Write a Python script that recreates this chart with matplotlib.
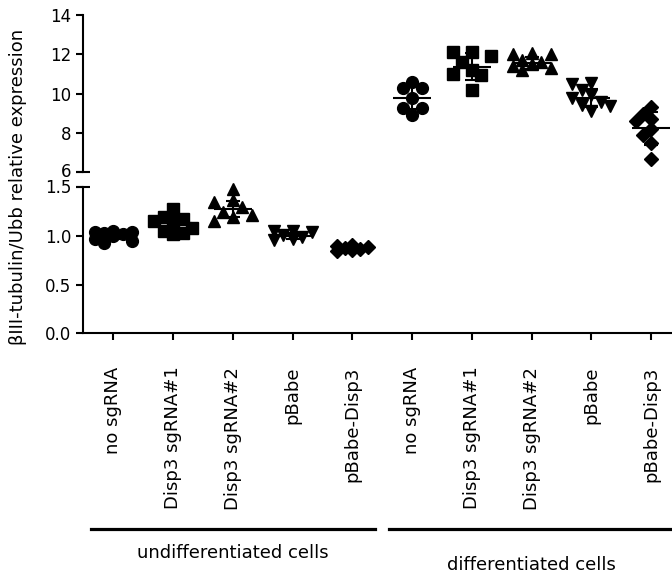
import numpy as np
import matplotlib.pyplot as plt
import matplotlib.transforms as mtransforms
from matplotlib.lines import Line2D

plt.rcParams['font.family'] = ['DejaVu Sans']

groups = ["no sgRNA", "Disp3 sgRNA#1", "Disp3 sgRNA#2", "pBabe", "pBabe-Disp3"]
cell_types = ["undifferentiated cells", "differentiated cells"]
markers = ["o", "s", "^", "v", "D"]

# individual replicates
undiff_values = [
    [1.05, 1.04, 1.04, 1.03, 1.02, 1.00, 0.97, 0.95, 0.93],
    [1.28, 1.19, 1.17, 1.15, 1.12, 1.08, 1.05, 1.03, 1.02],
    [1.48, 1.37, 1.35, 1.30, 1.25, 1.22, 1.20, 1.15],
    [1.05, 1.05, 1.04, 1.01, 0.99, 0.97, 0.96],
    [0.91, 0.90, 0.89, 0.88, 0.87, 0.86, 0.85],
]
diff_values = [
    [10.61, 10.27, 10.27, 9.76, 9.25, 9.25, 8.91],
    [12.13, 12.13, 11.90, 11.60, 11.20, 11.00, 10.95, 10.20],
    [12.05, 12.00, 12.00, 11.70, 11.60, 11.50, 11.40, 11.30, 11.20],
    [10.55, 10.50, 10.20, 9.95, 9.80, 9.60, 9.40, 9.35, 9.10],
    [9.30, 8.95, 8.70, 8.60, 8.20, 7.90, 7.50, 6.70],
]
undiff_mean = [1.01, 1.13, 1.28, 1.00, 0.88]
undiff_sd = [0.04, 0.07, 0.08, 0.03, 0.02]
diff_mean = [9.78, 11.37, 11.57, 9.78, 8.24]
diff_sd = [0.55, 0.68, 0.30, 0.45, 0.84]

W, H = 672, 578
fig = plt.figure(figsize=(W / 100, H / 100), dpi=100)
ax_top = fig.add_axes([83 / W, 1 - 172.3 / H, (W - 83) / W, (172.3 - 15) / H])
ax_bot = fig.add_axes([83 / W, 1 - 333.3 / H, (W - 83) / W, (333.3 - 187.3) / H])

for ax in (ax_top, ax_bot):
    ax.set_xlim(-0.51, 9.35)
    ax.spines['top'].set_visible(False)
    ax.spines['right'].set_visible(False)
    ax.spines['left'].set_linewidth(1.5)
    ax.spines['bottom'].set_linewidth(1.5)
    ax.tick_params(width=1.5, length=5, labelsize=12)

ax_top.set_ylim(6, 14)
ax_top.set_yticks([6, 8, 10, 12, 14])
ax_top.spines['bottom'].set_visible(False)
ax_top.tick_params(axis='x', bottom=False, labelbottom=False)

ax_bot.set_ylim(0, 1.5)
ax_bot.set_yticks([0, 0.5, 1.0, 1.5])
ax_bot.set_yticklabels(["0.0", "0.5", "1.0", "1.5"])
ax_bot.set_xticks(range(10))
ax_bot.set_xticklabels(groups * 2, rotation=90, va='top')
ax_bot.tick_params(axis='x', pad=19, labelsize=13)

# labels either side of the break sit close together; nudge them apart a little
nudge = 2.5 / 72
ax_top.get_yticklabels()[0].set_va('bottom')
ax_top.get_yticklabels()[0].set_transform(
    ax_top.get_yticklabels()[0].get_transform()
    + mtransforms.ScaledTranslation(0, -6 / 72, fig.dpi_scale_trans))
ax_bot.get_yticklabels()[-1].set_va('top')
ax_bot.get_yticklabels()[-1].set_transform(
    ax_bot.get_yticklabels()[-1].get_transform()
    + mtransforms.ScaledTranslation(0, 6 / 72, fig.dpi_scale_trans))

# axis-break caps
ax_top.plot([0], [0], marker='_', ms=9.5, mew=1.5, color='k',
            transform=ax_top.transAxes, clip_on=False)
ax_bot.plot([0], [1], marker='_', ms=9.5, mew=1.5, color='k',
            transform=ax_bot.transAxes, clip_on=False)


def swarm(vals, ax, size_px):
    # simple beeswarm in pixel space, capped at two slots each side
    vals = np.asarray(vals, dtype=float)
    y_px = ax.transData.transform(np.column_stack([np.zeros(len(vals)), vals]))[:, 1]
    x_scale = ax.transData.transform([[1, 0]])[0, 0] - ax.transData.transform([[0, 0]])[0, 0]
    placed = []
    offs = np.zeros(len(vals))
    step_px = size_px * 0.8
    for k in np.argsort(-vals):
        best, best_d = 0.0, -1
        for step in [0, -1, 1, -2, 2]:
            dx = step * step_px
            d = min([np.hypot(dx - px, y_px[k] - py) for px, py in placed] or [1e9])
            if d >= size_px * 0.9:
                best = dx
                break
            if d > best_d + 0.5:
                best, best_d = dx, d
        placed.append((best, y_px[k]))
        offs[k] = best / x_scale
    return offs


def draw_group(ax, x, vals, mean, sd, marker):
    ms = 7 if marker == 'D' else 8.5
    size_px = ms * 100 / 72
    xs = x + swarm(vals, ax, size_px)
    ax.plot(xs, vals, linestyle='none', marker=marker, ms=ms, color='k', clip_on=False, zorder=3)
    ax.hlines(mean, x - 0.32, x + 0.32, color='k', lw=1.5, zorder=4)
    ax.errorbar(x, mean, yerr=sd, fmt='none', ecolor='k', elinewidth=1.5,
                capsize=5, capthick=1.5, zorder=4)


for i in range(5):
    draw_group(ax_bot, i, undiff_values[i], undiff_mean[i], undiff_sd[i], markers[i])
    draw_group(ax_top, 5 + i, diff_values[i], diff_mean[i], diff_sd[i], markers[i])

# group bars and labels under the tick labels
trans = mtransforms.blended_transform_factory(ax_bot.transData, fig.transFigure)
for center, label, ty in [(2, cell_types[0], 1 - 553 / H), (7, cell_types[1], 1 - 565 / H)]:
    fig.add_artist(Line2D([center - 2.38, center + 2.38], [1 - 529 / H] * 2,
                          transform=trans, color='k', lw=2.3, clip_on=False))
    fig.text(center, ty, label, transform=trans, ha='center', va='center', fontsize=13)

fig.text(18 / W, 1 - 187 / H, "βIII-tubulin/Ubb relative expression",
         rotation=90, ha='center', va='center', fontsize=13)

fig.savefig("out.png", dpi=100)
